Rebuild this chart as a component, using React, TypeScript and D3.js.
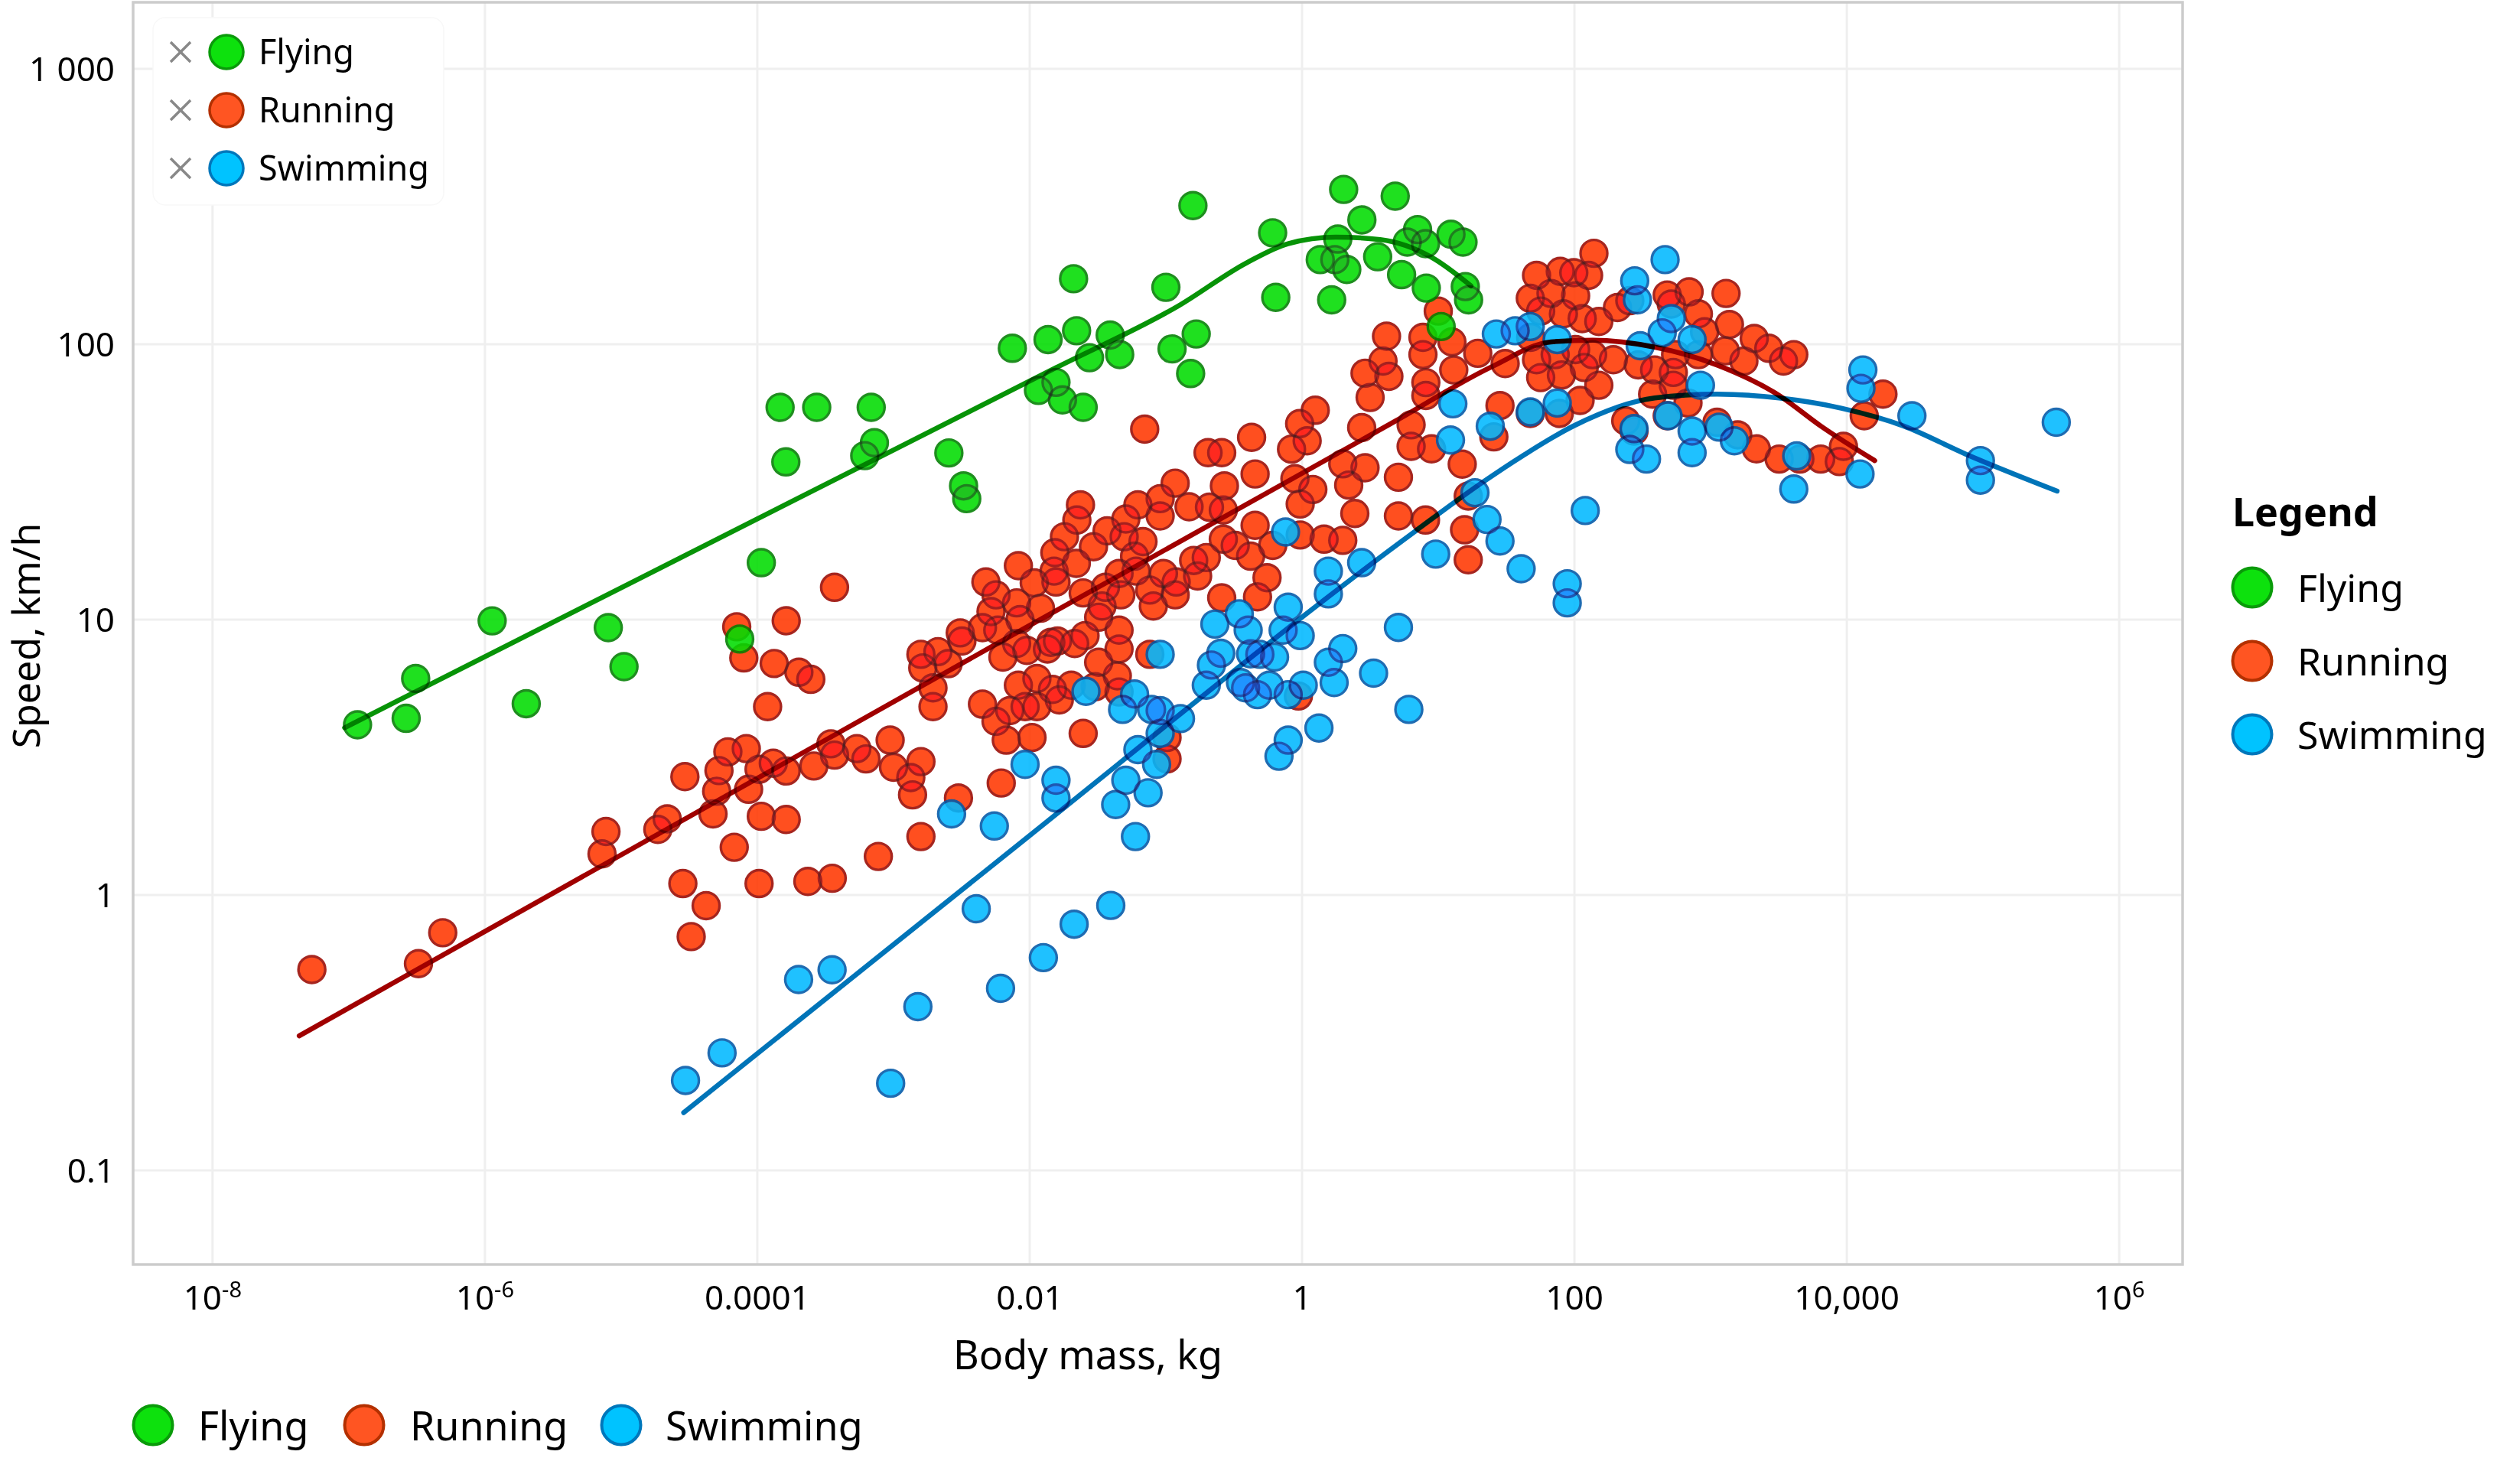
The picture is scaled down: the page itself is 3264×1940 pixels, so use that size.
import React from 'react';
import * as d3 from 'd3';

const W = 3264;
const H = 1940;
const FONT = '"Noto Sans", "Open Sans", sans-serif';

// ---- categories / ticks ----
const seriesNames = ['Flying', 'Running', 'Swimming'];
const xTickValues = [1e-8, 1e-6, 1e-4, 1e-2, 1, 100, 1e4, 1e6];
const xTickLabels: string[][] = [['10', '-8'], ['10', '-6'], ['0.0001'], ['0.01'], ['1'], ['100'], ['10,000'], ['10', '6']];
const yTickValues = [0.1, 1, 10, 100, 1000];
const yTickLabels = ['0.1', '1', '10', '100', '1 000'];
const xDomain = [2.61e-9, 2.92e6];
const yDomain = [0.0455, 1746];

// ---- data: [body mass kg, speed km/h] ----
const flyingPoints: [number, number][] = [
  [1.16e-7, 4.15], [2.64e-7, 4.38], [3.1e-7, 6.11], [1.13e-6, 9.9], [2.01e-6, 4.95], [8.05e-6, 9.35], [1.05e-5, 6.75],
  [7.43e-5, 8.5], [1.07e-4, 16.1], [1.47e-4, 59], [1.62e-4, 37.4], [2.73e-4, 59], [6.15e-4, 39.4], [6.86e-4, 59],
  [7.24e-4, 43.9], [2.55e-3, 40.3], [3.27e-3, 30.6], [3.45e-3, 27.5], [7.46e-3, 96.7], [0.0116, 68], [0.01364, 104],
  [0.0156, 72.7], [0.0174, 62.8], [0.021, 173], [0.0221, 112], [0.0247, 59], [0.0275, 89.4], [0.039, 108], [0.0458, 91.8],
  [0.1, 161], [0.111, 96.2], [0.152, 78.3], [0.167, 109], [0.158, 319], [0.608, 254], [0.641, 148], [1.36, 203],
  [1.65, 145], [1.83, 241], [2.02, 365], [2.13, 187], [2.75, 283], [3.59, 208], [4.83, 345], [5.38, 179], [5.92, 235],
  [7.05, 261], [8.17, 160], [8.06, 232], [12.4, 251], [10.5, 116], [15.2, 235], [15.8, 162], [16.7, 145], [1.74, 203],
];

const runningPoints: [number, number][] = [
  [5.36e-8, 0.536], [3.25e-7, 0.563], [4.9e-7, 0.729], [7.74e-6, 1.7], [7.24e-6, 1.41], [1.86e-5, 1.73], [2.18e-5, 1.89],
  [2.94e-5, 2.69], [2.84e-5, 1.1], [4.21e-5, 0.914], [3.27e-5, 0.706], [4.73e-5, 1.97], [5.03e-5, 2.38], [5.23e-5, 2.83],
  [6.08e-5, 3.31], [8.3e-5, 3.4], [6.77e-5, 1.49], [8.63e-5, 2.42], [1.03e-4, 2.86], [1.07e-4, 1.93], [1.63e-4, 1.88],
  [1.31e-4, 3.01], [1.63e-4, 2.82], [1.03e-4, 1.1], [2.35e-4, 1.12], [3.55e-4, 1.15], [2.6e-4, 2.94], [3.47e-4, 3.54],
  [3.69e-4, 3.22], [5.38e-4, 3.4], [6.28e-4, 3.12], [7.74e-4, 1.38], [7.06e-5, 9.42], [7.96e-5, 7.26], [1.63e-4, 9.91],
  [3.69e-4, 13.1], [1.19e-4, 4.83], [1.33e-4, 6.93], [2.02e-4, 6.44], [2.47e-4, 6.07],
  [0.0699, 49.2], [0.204, 40.4], [0.257, 40.4], [0.426, 45.9], [0.96, 51.5], [0.837, 41.6], [1.09, 44.6], [2.74, 49.8],
  [0.452, 33.8], [0.269, 30.6], [0.117, 31.3], [0.0908, 27.5], [0.0623, 26.1], [0.0236, 26.1], [0.0222, 23.0],
  [0.0508, 23.2], [0.0908, 23.8], [0.148, 25.7], [0.209, 25.6], [0.264, 25.0], [0.886, 32.5], [1.2, 29.7], [0.969, 26.3],
  [0.452, 22.0], [1.99, 36.8], [2.9, 35.6], [5.1, 32.9], [2.2, 30.8], [2.44, 24.3], [5.1, 23.8], [1.45, 19.6], [1.99, 19.4],
  [0.969, 20.3], [0.609, 18.6], [0.264, 19.6], [0.323, 18.6], [0.419, 17.0], [0.553, 14.2], [0.471, 12.1], [0.257, 12.0],
  [0.198, 16.8], [0.171, 14.4], [0.16, 16.4], [0.119, 13.7], [0.117, 12.3], [0.096, 14.7], [0.0809, 11.2], [0.0762, 12.8],
  [0.0604, 15.0], [0.0589, 17.0], [0.0679, 19.2], [0.0494, 20.0], [0.037, 21.0], [0.0294, 18.4], [0.022, 16.0],
  [0.0153, 17.5], [0.0151, 15.0], [0.018, 20.0], [0.00826, 15.7], [0.0108, 13.6], [0.0156, 13.7], [0.0247, 12.5],
  [0.036, 13.1], [0.0453, 14.7], [0.0467, 12.3], [0.034, 11.2], [0.0321, 10.2], [0.0453, 9.16], [0.0255, 8.75],
  [0.0214, 8.19], [0.016, 8.36], [0.0135, 7.82], [0.012, 11.0], [0.00849, 10.0], [0.00802, 11.5], [0.00566, 12.3],
  [0.00477, 13.7], [0.0052, 10.7], [0.0045, 9.35], [0.00309, 8.95], [0.00318, 8.36], [0.00212, 7.65], [0.00159, 7.48],
  [0.00164, 6.68], [0.00252, 6.92], [0.00195, 5.65], [0.00195, 4.83], [0.00583, 9.16], [0.00802, 8.19], [0.00636, 7.31],
  [0.00953, 7.73], [0.0143, 8.27], [0.00826, 5.78], [0.0113, 6.11], [0.0147, 5.58], [0.0202, 5.78], [0.0321, 7.0],
  [0.0453, 7.82], [0.044, 6.25], [0.0453, 5.46], [0.0303, 5.71], [0.0045, 4.93], [0.00714, 4.67], [0.00925, 4.83],
  [0.0113, 4.83], [0.0165, 5.11], [0.00566, 4.27], [0.00673, 3.65], [0.0104, 3.73], [0.0247, 3.86], [0.0762, 7.48],
  [0.102, 3.73], [0.102, 3.12], [0.94, 5.28], [9.45e-4, 3.65], [1.0e-3, 2.91], [1.59e-3, 3.05], [1.34e-3, 2.67],
  [1.38e-3, 2.31], [6.18e-3, 2.55], [3.0e-3, 2.25], [1.59e-3, 1.63],
  [1.25, 57.6], [4.17, 107], [3.93, 86.9], [2.9, 78.5], [4.34, 76.5], [3.16, 64.1], [8.11, 72.6], [8.11, 65.2],
  [6.32, 51.0], [8.93, 41.7], [6.32, 42.6], [15.0, 36.7], [10, 132], [7.72, 106], [12.6, 102], [7.72, 91.7], [19.5, 92.7],
  [13.0, 80.7], [31.0, 85.1], [28.4, 59.9], [47.7, 106], [25.6, 46.1], [8.06, 23.0], [15.6, 21.2], [16.6, 16.5], [16.6, 28.1],
  [139, 214], [52.7, 178], [78.7, 184], [98.9, 182], [127, 178], [67.3, 153], [102, 150], [47.4, 147], [207, 136],
  [255, 144], [114, 124], [151, 121], [56.5, 132], [83, 129], [480, 151], [695, 155], [1298, 153], [813, 129], [514, 140],
  [1374, 118], [903, 111], [2090, 105], [2673, 96.7], [4080, 91.7], [3427, 86.9], [1755, 86.9], [1281, 94.7], [813, 91.7],
  [553, 91.7], [294, 84.2], [388, 80.7], [532, 79.0], [193, 87.9], [136, 91.7], [102, 95.7], [72.2, 91.7], [52.7, 87.9],
  [56.5, 75.7], [80.2, 77.3], [118, 82.4], [151, 71.0], [110, 62.5], [77.4, 56.1], [47.4, 56.1], [375, 65.9], [532, 71.0],
  [682, 61.2], [238, 52.7], [274, 48.4], [480, 55.0], [1114, 52.1], [1581, 46.9], [2167, 41.7], [3184, 38.3], [4519, 38.3],
  [6430, 38.3], [8810, 37.5], [9446, 42.6], [18420, 65.9], [13420, 55.0],
];

const swimmingPoints: [number, number][] = [
  [2.97e-5, 0.212], [5.51e-5, 0.267], [2.01e-4, 0.493], [3.54e-4, 0.535], [4.05e-3, 0.891], [0.0394, 0.916],
  [0.0212, 0.783], [0.0126, 0.592], [6.11e-3, 0.458], [1.51e-3, 0.393], [9.53e-4, 0.207],
  [0.756, 20.8], [1.56, 15.0], [2.74, 16.1], [1.56, 12.4], [0.791, 11.1], [0.346, 10.5], [0.229, 9.63], [0.402, 9.16],
  [0.726, 9.16], [0.969, 8.75], [5.1, 9.37], [1.99, 7.85], [1.56, 7.0], [1.72, 5.91], [3.35, 6.39], [6.08, 4.72],
  [0.253, 7.55], [0.216, 6.84], [0.419, 7.51], [0.49, 7.48], [0.628, 7.31], [0.198, 5.78], [0.353, 5.91], [0.385, 5.65],
  [0.575, 5.78], [1.02, 5.78], [0.471, 5.34], [0.791, 5.34], [0.0908, 7.48], [0.0259, 5.49], [0.0589, 5.37],
  [0.0481, 4.72], [0.0785, 4.72], [0.0908, 4.67], [0.128, 4.37], [0.0908, 3.86], [0.0623, 3.37], [0.0855, 2.98],
  [0.0508, 2.61], [0.074, 2.35], [0.0428, 2.13], [1.33, 4.04], [0.791, 3.65], [0.677, 3.19], [9.25e-3, 2.98],
  [0.0156, 2.61], [0.0156, 2.25], [2.67e-3, 1.97], [5.5e-3, 1.78], [0.0598, 1.63],
  [12.3, 44.9], [24.1, 50.4], [18.6, 28.9], [22.8, 23.1], [28.4, 19.3], [40.6, 15.3], [88.5, 13.5], [88.5, 11.5], [9.58, 17.3],
  [463, 203], [277, 170], [290, 145], [514, 124], [441, 110], [731, 104], [304, 98.8], [47.4, 116], [74.8, 104],
  [842, 71.0], [74.8, 61.2], [47.4, 56.8], [487, 55.0], [274, 49.4], [255, 41.5], [338, 38.3], [731, 48.4], [731, 40.4],
  [1153, 50.0], [1493, 44.6], [4285, 39.3], [4080, 29.8], [13120, 80.7], [12700, 69.2], [12500, 33.8], [30070, 55.0],
  [95700, 37.8], [95700, 32.1], [345000, 52.1], [120, 24.9],
  [26.7, 109], [36.7, 112], [12.8, 60.8],
];

// fitted trend lines
const flyingFit: [number, number][] = [
  [9.33e-8, 4.05], [1.94e-4, 27.4], [0.0156, 82.2], [0.124, 138], [0.394, 198], [0.789, 232], [1.77, 245],
  [3.75, 240], [8.93, 207], [17.4, 163],
];
const runningFit: [number, number][] = [
  [4.33e-8, 0.308], [5.53e-3, 8.09], [4.88, 52.7], [25.1, 83.2], [67.3, 102], [136, 103.5], [388, 97.7],
  [1114, 84.1], [3184, 65.2], [6430, 50.5], [16030, 37.8],
];
const swimmingFit: [number, number][] = [
  [2.88e-5, 0.162], [5.53e-3, 1.3], [6.82, 21.0], [20.9, 31.4], [41.8, 39.4], [100, 50.7], [388, 63.8],
  [1114, 65.9], [3184, 63.8], [9100, 58.6], [26100, 50.5], [74800, 39.9], [350000, 29.3],
];

// ---- styles ----
const PL = 174, PR = 2853, PT = 3, PB = 1653;
const pointFill = ['#00dc00', '#ff3700', '#00b9ff'];
const pointStroke = ['#007f00', '#9a0800', '#0058a8'];
const legendFill = ['#0de10d', '#ff5522', '#00c3ff'];
const legendStroke = ['#0a9a0a', '#b33000', '#0077bb'];
const lineColor = ['#079307', '#a00000', '#0074b8'];

export default function App() {
  const x = d3.scaleLog().domain(xDomain).range([PL, PR]);
  const y = d3.scaleLog().domain(yDomain).range([PB, PT]);
  const line = d3.line<[number, number]>()
    .x((d) => x(d[0]))
    .y((d) => y(d[1]))
    .curve(d3.curveMonotoneX);

  const pointsBySeries = [flyingPoints, runningPoints, swimmingPoints];
  const fitsBySeries = [flyingFit, runningFit, swimmingFit];
  const drawOrder = [1, 2, 0];

  return (
    <svg width={W} height={H} style={{ position: 'absolute', left: 0, top: 0, background: '#fff' }} fontFamily={FONT}>
      <defs>
        <clipPath id="plotclip">
          <rect x={PL} y={PT} width={PR - PL} height={PB - PT} />
        </clipPath>
      </defs>
      <rect x={0} y={0} width={W} height={H} fill="#fff" />
      {/* grid */}
      <g stroke="#efefef" strokeWidth={3}>
        {xTickValues.map((v, i) => (
          <line key={'gx' + i} x1={x(v)} x2={x(v)} y1={PT} y2={PB} />
        ))}
        {yTickValues.map((v, i) => (
          <line key={'gy' + i} x1={PL} x2={PR} y1={y(v)} y2={y(v)} />
        ))}
      </g>

      {/* points */}
      <g clipPath="url(#plotclip)">
        {drawOrder.map((si) => (
          <g key={'s' + si} style={{ isolation: 'isolate', opacity: 0.88 }}>
            {pointsBySeries[si].map((d, i) => (
              <circle
                key={i}
                cx={x(d[0])}
                cy={y(d[1])}
                r={17.5}
                fill={pointFill[si]}
                stroke={pointStroke[si]}
                strokeWidth={3.4}
                style={{ mixBlendMode: 'multiply' }}
              />
            ))}
          </g>
        ))}
        {[0, 1, 2].map((si) => (
          <path
            key={'f' + si}
            d={line(fitsBySeries[si]) || ''}
            fill="none"
            stroke={lineColor[si]}
            strokeWidth={6.5}
            strokeLinecap="round"
            style={{ mixBlendMode: 'multiply' }}
          />
        ))}
      </g>

      {/* frame */}
      <rect x={PL} y={PT} width={PR - PL} height={PB - PT} fill="none" stroke="#cccccc" strokeWidth={3.5} />

      {/* y tick labels */}
      {yTickValues.map((v, i) => (
        <text key={'yt' + i} x={150} y={y(v) + 16} textAnchor="end" fontSize={44} fill="#000">
          {yTickLabels[i]}
        </text>
      ))}
      {/* x tick labels */}
      {xTickValues.map((v, i) => {
        const lab = xTickLabels[i];
        return (
          <text key={'xt' + i} x={x(v)} y={1712} textAnchor="middle" fontSize={44} fill="#000">
            {lab[0]}
            {lab.length > 1 ? (
              <tspan fontSize={29} dy={-16}>{lab[1]}</tspan>
            ) : null}
          </text>
        );
      })}

      {/* axis titles */}
      <text x={1422} y={1790} textAnchor="middle" fontSize={52} fill="#000">Body mass, kg</text>
      <text transform="translate(52,831) rotate(-90)" textAnchor="middle" fontSize={50} fill="#000">Speed, km/h</text>

      {/* top-left legend */}
      <rect x={200} y={23} width={380} height={245} rx={16} fill="#fff" stroke="#f8f8f8" strokeWidth={1.5} />
      {seriesNames.map((name, i) => {
        const cy = 68 + i * 76;
        return (
          <g key={'tl' + i}>
            <line x1={223} y1={cy - 13} x2={249} y2={cy + 13} stroke="#888" strokeWidth={3.5} />
            <line x1={223} y1={cy + 13} x2={249} y2={cy - 13} stroke="#888" strokeWidth={3.5} />
            <circle cx={296} cy={cy} r={22} fill={legendFill[i]} stroke={legendStroke[i]} strokeWidth={3.5} />
            <text x={338} y={cy + 16} fontSize={45} fill="#000">{name}</text>
          </g>
        );
      })}

      {/* right legend */}
      <text x={2918} y={688} fontSize={52} fontWeight="bold" fill="#000">Legend</text>
      {seriesNames.map((name, i) => {
        const cy = 768 + i * 96;
        return (
          <g key={'rl' + i}>
            <circle cx={2944} cy={cy} r={25.5} fill={legendFill[i]} stroke={legendStroke[i]} strokeWidth={4} />
            <text x={3003} y={cy + 19} fontSize={50} fill="#000">{name}</text>
          </g>
        );
      })}

      {/* bottom legend */}
      {seriesNames.map((name, i) => {
        const cx = [200, 476, 812][i];
        const tx = [259, 536, 870][i];
        return (
          <g key={'bl' + i}>
            <circle cx={cx} cy={1863} r={25.5} fill={legendFill[i]} stroke={legendStroke[i]} strokeWidth={4} />
            <text x={tx} y={1883} fontSize={52} fill="#000">{name}</text>
          </g>
        );
      })}
    </svg>
  );
}
